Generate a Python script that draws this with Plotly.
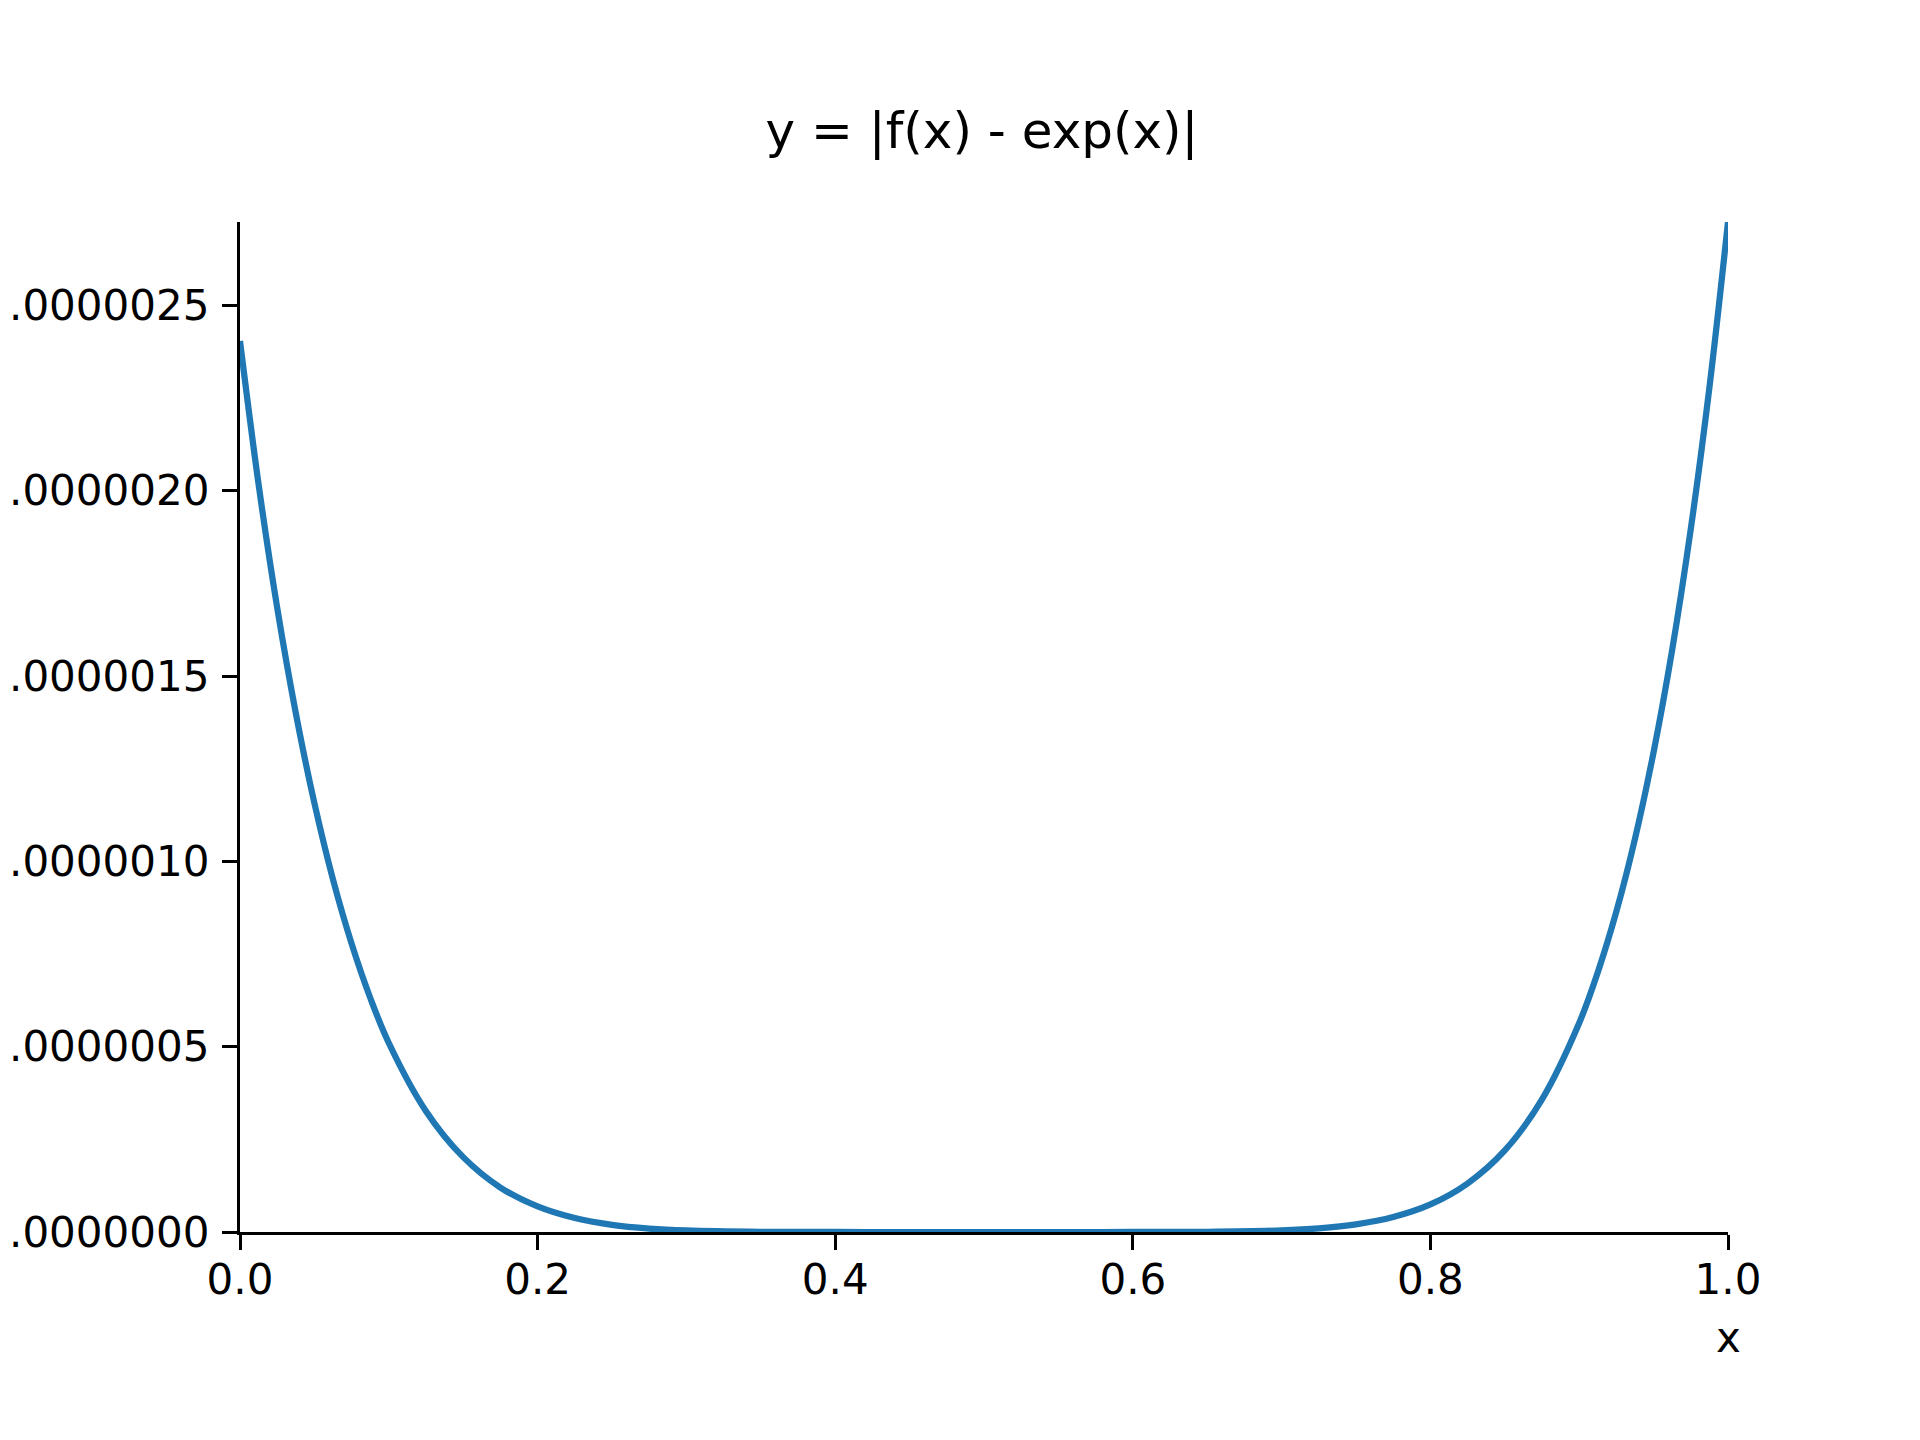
import plotly.graph_objects as go

# x positions and |f(x) - exp(x)|
x_vals = [0.0, 0.0125, 0.025, 0.0375, 0.05, 0.0625, 0.075, 0.0875, 0.1, 0.125, 0.15,
          0.175, 0.2, 0.225, 0.25, 0.275, 0.3, 0.35, 0.4, 0.45, 0.5, 0.55, 0.6,
          0.65, 0.7, 0.725, 0.75, 0.775, 0.8, 0.825, 0.85, 0.875, 0.9, 0.9125,
          0.925, 0.9375, 0.95, 0.9625, 0.975, 0.9875, 1.0]
err_vals = [2.404e-6, 2.017e-6, 1.684e-6, 1.400e-6, 1.157e-6, 9.51e-7, 7.78e-7, 6.32e-7,
            5.10e-7, 3.26e-7, 2.02e-7, 1.20e-7, 6.9e-8, 3.76e-8, 1.94e-8, 9.3e-9,
            4.1e-9, 5.5e-10, 3e-11, 0.0, 0.0, 0.0, 3e-11, 5.7e-10, 4.3e-9, 9.8e-9,
            2.06e-8, 4.03e-8, 7.43e-8, 1.31e-7, 2.20e-7, 3.58e-7, 5.64e-7, 7.01e-7,
            8.65e-7, 1.061e-6, 1.295e-6, 1.571e-6, 1.897e-6, 2.278e-6, 2.725e-6]

x_ticks = [0.0, 0.2, 0.4, 0.6, 0.8, 1.0]
y_ticks = [0.0, 0.5e-6, 1.0e-6, 1.5e-6, 2.0e-6, 2.5e-6]

font = "DejaVu Sans"

fig = go.Figure()
fig.add_trace(go.Scatter(
    x=x_vals, y=err_vals, mode="lines",
    line=dict(color="#1f77b4", width=6.25, shape="spline", smoothing=1.0),
))

# page body adds an 8px offset, so margins are shifted to compensate
fig.update_layout(
    width=1920, height=1440,
    margin=dict(l=232, r=200, t=214, b=216, autoexpand=False),
    paper_bgcolor="white", plot_bgcolor="white",
    showlegend=False,
    font=dict(family=font, size=42, color="black"),
    title=dict(text="y = |f(x) - exp(x)|", x=974 / 1920, xanchor="center",
               y=1 - 122 / 1440, yanchor="middle", yref="container",
               font=dict(family=font, size=50, color="black")),
)

axis_style = dict(
    showgrid=False, zeroline=False, showline=True, linecolor="black",
    linewidth=3.3, ticks="outside", ticklen=15, tickwidth=3.3,
    tickcolor="black", layer="above traces", automargin=False,
)
fig.update_xaxes(range=[0, 1], tickvals=x_ticks, tickformat=".1f",
                 ticklabelstandoff=-7, **axis_style)
fig.update_yaxes(range=[0, 2.725e-6], tickvals=y_ticks, tickformat=".7f",
                 ticklabelstandoff=4, **axis_style)

fig.add_annotation(text="x", xref="paper", yref="paper", x=1, y=-0.104,
                   xanchor="center", yanchor="middle", showarrow=False,
                   font=dict(family=font, size=42, color="black"))

fig.write_html("out.html")
